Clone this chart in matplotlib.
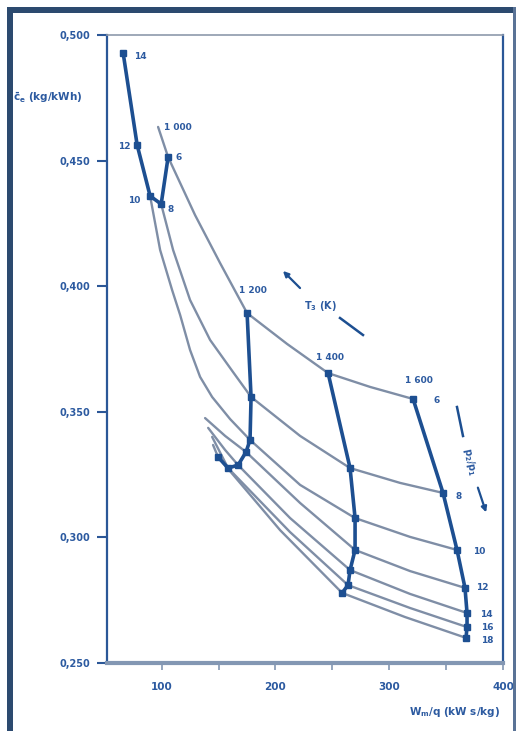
import matplotlib
matplotlib.use("Agg")
import matplotlib.pyplot as plt
from matplotlib.patches import Rectangle

# ---- data (W in kW s/kg, c in kg/kWh) ----
# constant pressure-ratio lines (thin)
w_pi6 = [96.9, 105.7, 129.4, 151.4, 175.1, 210.3, 246.3, 283.2, 321.0]
c_pi6 = [0.4634, 0.4514, 0.4283, 0.4092, 0.3893, 0.3770, 0.3654, 0.3599, 0.3551]

w_pi8 = [99.6, 110.1, 125.0, 142.6, 162.8, 178.6, 221.7, 265.6, 309.5, 347.3]
c_pi8 = [0.4327, 0.4144, 0.3945, 0.3786, 0.3658, 0.3559, 0.3404, 0.3276, 0.3217, 0.3177]

w_pi10 = [89.9, 92.5, 98.7, 109.2, 116.3, 125.0, 133.8, 144.4, 160.2, 177.7, 221.7, 270.0, 318.3, 359.6]
c_pi10 = [0.4359, 0.4295, 0.4144, 0.3985, 0.3885, 0.3746, 0.3639, 0.3559, 0.3471, 0.3388, 0.3209,
          0.3077, 0.3002, 0.2950]

w_pi12 = [138.2, 155.8, 174.2, 221.7, 270.0, 318.3, 366.6]
c_pi12 = [0.3475, 0.3404, 0.3340, 0.3137, 0.2950, 0.2866, 0.2799]

w_pi14 = [140.9, 155.8, 167.2, 212.9, 265.6, 318.3, 368.4]
c_pi14 = [0.3436, 0.3348, 0.3288, 0.3077, 0.2870, 0.2775, 0.2699]

w_pi16 = [144.4, 158.4, 212.9, 263.8, 318.3, 368.4]
c_pi16 = [0.3400, 0.3276, 0.3021, 0.2810, 0.2719, 0.2643]

w_pi18 = [145.2, 149.6, 204.1, 258.6, 313.9, 367.5]
c_pi18 = [0.3368, 0.3320, 0.3029, 0.2779, 0.2683, 0.2600]

# constant turbine inlet temperature lines (thick)
pi_t1000 = [14, 12, 10, 8, 6]
w_t1000 = [66.2, 78.5, 89.9, 99.6, 105.7]
c_t1000 = [0.4928, 0.4562, 0.4359, 0.4327, 0.4514]

pi_hi = [6, 8, 10, 12, 14, 16, 18]
w_t1200 = [175.1, 178.6, 177.7, 174.2, 167.2, 158.4, 149.6]
c_t1200 = [0.3893, 0.3559, 0.3388, 0.3340, 0.3288, 0.3276, 0.3320]

w_t1400 = [246.3, 265.6, 270.0, 270.0, 265.6, 263.8, 258.6]
c_t1400 = [0.3654, 0.3276, 0.3077, 0.2950, 0.2870, 0.2810, 0.2779]

w_t1600 = [321.0, 347.3, 359.6, 366.6, 368.4, 368.4, 367.5]
c_t1600 = [0.3551, 0.3177, 0.2950, 0.2799, 0.2699, 0.2643, 0.2600]

t_labels = ["1 000", "1 200", "1 400", "1 600"]
y_ticks = [0.25, 0.30, 0.35, 0.40, 0.45, 0.50]
x_ticks = [100, 200, 300, 400]
x_minor = [150, 250, 350]

# ---- colours ----
THIN = "#7f8ea6"
THICK = "#1d4f91"
TEXT = "#2c5aa0"
SPINE = "#2b5797"
FRAME = "#2c4a6f"

W, H = 516, 731
fig = plt.figure(figsize=(W / 100, H / 100), dpi=100)
fig.patch.set_facecolor("white")


def fx(x):
    return x / W


def fy(y):
    return 1 - y / H


ax = fig.add_axes([fx(107), fy(663), (503 - 107) / W, (663 - 35) / H])
ax.set_xlim(52, 400)
ax.set_ylim(0.25, 0.5)

# thin lines, constant pressure ratio
for w, c in [(w_pi6, c_pi6), (w_pi8, c_pi8), (w_pi10, c_pi10), (w_pi12, c_pi12),
             (w_pi14, c_pi14), (w_pi16, c_pi16), (w_pi18, c_pi18)]:
    ax.plot(w, c, color=THIN, lw=1.7, solid_capstyle="round", solid_joinstyle="round", zorder=2)

# thick lines, constant T3
for w, c in [(w_t1000, c_t1000), (w_t1200, c_t1200), (w_t1400, c_t1400), (w_t1600, c_t1600)]:
    ax.plot(w, c, color=THICK, lw=2.6, marker="s", ms=4, zorder=3)

lab = dict(color=TEXT, fontsize=6.5, fontweight="bold", ha="center", va="center",
           textcoords="offset pixels")

# pressure ratio labels at T3 = 1000
offs_left = [(17, -3), (-13, -1), (-16, -4), (9, -5), (11, 0)]
for p, w, c, o in zip(pi_t1000, w_t1000, c_t1000, offs_left):
    ax.annotate(str(p), (w, c), xytext=o, **lab)

# pressure ratio labels at T3 = 1600
offs_right = [(24, -2), (16, -4), (22, -2), (17, 0), (19, -1), (20, 0), (21, -3)]
for p, w, c, o in zip(pi_hi, w_t1600, c_t1600, offs_right):
    ax.annotate(str(p), (w, c), xytext=o, **lab)

# temperature labels
t_anchor = [(w_t1000[-1], c_t1000[-1]), (w_t1200[0], c_t1200[0]),
            (w_t1400[0], c_t1400[0]), (w_t1600[0], c_t1600[0])]
t_offs = [(10, 30), (6, 23), (2, 16), (6, 18)]
for t, a, o in zip(t_labels, t_anchor, t_offs):
    ax.annotate(t, a, xytext=o, **lab)

# spines and ticks
for s in ["left", "right"]:
    ax.spines[s].set_color(SPINE)
    ax.spines[s].set_linewidth(1.6)
ax.spines["top"].set_color("#8d99ab")
ax.spines["top"].set_linewidth(1.2)
ax.spines["bottom"].set_color("#8397b3")
ax.spines["bottom"].set_linewidth(3.0)

ax.set_yticks(y_ticks)
ax.set_yticklabels([f"{v:.3f}".replace(".", ",") for v in y_ticks])
ax.tick_params(axis="y", direction="out", length=7, width=1.5, color=SPINE, pad=5,
               labelsize=7, labelcolor=TEXT)
ax.set_xticks(x_ticks)
ax.set_xticks(x_minor, minor=True)
ax.tick_params(axis="x", which="both", direction="out", length=5, width=1.2, color="#8397b3",
               pad=9, labelsize=7.5, labelcolor=TEXT)
for t in ax.get_yticklabels() + ax.get_xticklabels():
    t.set_fontweight("bold")

# axis titles
fig.text(fx(13), fy(98), r"$\mathbf{\bar{c}_e}$ (kg/kWh)", color=TEXT, fontsize=7.5,
         fontweight="bold", ha="left", va="center")
fig.text(fx(455), fy(712), r"W$_\mathbf{m}$/q (kW s/kg)", color=TEXT, fontsize=7.5,
         fontweight="bold", ha="center", va="center")

# T3 arrow
fig.text(fx(320), fy(306), r"$\mathbf{T_3}$ (K)", color=TEXT, fontsize=7, fontweight="bold",
         ha="center", va="center")
ax.annotate("", xy=(fx(281), fy(269)), xytext=(fx(302), fy(290)), xycoords="figure fraction",
            arrowprops=dict(arrowstyle="-|>", color=THICK, lw=1.6, mutation_scale=8))
fig.add_artist(plt.Line2D([fx(340), fx(363)], [fy(318), fy(335)], color=THICK, lw=1.8))

# pressure ratio arrow
fig.text(fx(470), fy(462), r"p$_\mathbf{2}$/p$_\mathbf{1}$", color=TEXT, fontsize=7,
         fontweight="bold", ha="center", va="center", rotation=-78)
fig.add_artist(plt.Line2D([fx(457), fx(463)], [fy(407), fy(436)], color=THICK, lw=1.8))
ax.annotate("", xy=(fx(487), fy(515)), xytext=(fx(477), fy(485)), xycoords="figure fraction",
            arrowprops=dict(arrowstyle="-|>", color=THICK, lw=1.6, mutation_scale=8))

# outer frame
fig.add_artist(Rectangle((fx(7), 0), 6 / W, (H - 7) / H, transform=fig.transFigure,
                         color=FRAME, lw=0))
fig.add_artist(Rectangle((fx(7), fy(13)), (W - 7) / W, 6 / H, transform=fig.transFigure,
                         color=FRAME, lw=0))
fig.add_artist(Rectangle((fx(513), 0), 2.5 / W, (H - 7) / H, transform=fig.transFigure,
                         color="#5a7396", lw=0))

fig.savefig("out.png", dpi=100, facecolor="white")
plt.close(fig)
